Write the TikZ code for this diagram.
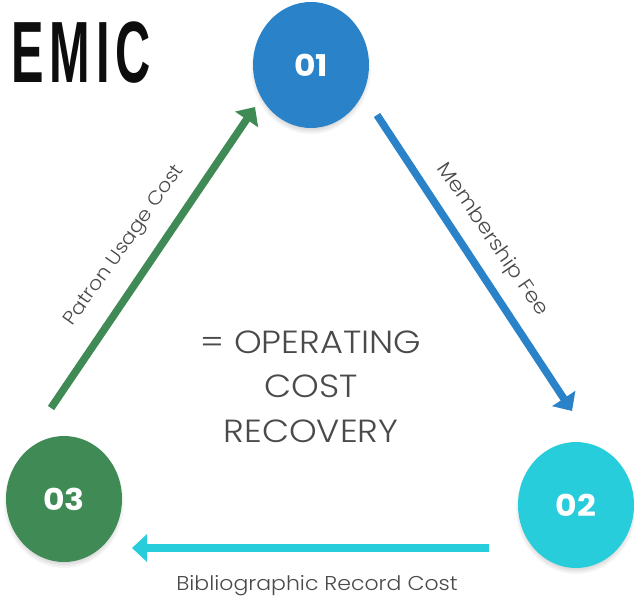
\documentclass[tikz,border=0pt]{standalone}
\usepackage{fontspec}
\setmainfont{Poppins}[UprightFont=* Light,BoldFont=* Bold,FakeStretch=1.1]
\newfontfamily\emicfont{Liberation Sans}[LetterSpace=12,BoldFont=* Bold]
\usetikzlibrary{arrows.meta,shapes.geometric}
\definecolor{cblue}{HTML}{2A83C9}
\definecolor{ccyan}{HTML}{28CDDB}
\definecolor{cgreen}{HTML}{3F8A55}
\definecolor{ctext}{HTML}{4A4A4A}
\tikzset{
  x=1pt,y=-1pt,
  stage/.style={ellipse,minimum width=116pt,minimum height=126pt,inner sep=0pt,text=white,font=\bfseries\fontsize{30}{30}\selectfont},
  flow/.style={line width=7.5pt,-{Triangle[length=15pt,width=27pt]}},
  lbl/.style={text=ctext,font=\fontsize{20}{22}\selectfont,inner sep=0pt},
  centretext/.style={text=ctext,font=\fontsize{32}{44.5}\selectfont,align=center,inner sep=0pt},
  shade/.style={fill=black,opacity=0.035,draw=none}
}
\begin{document}
\begin{tikzpicture}
\useasboundingbox (0,0) rectangle (634,599);
\fill[white] (0,0) rectangle (634,599);
\foreach \cx/\cy in {311/65,576/505,64/499}{
  \foreach \g in {0,1.5,3,4.5}{
    \fill[shade] (\cx,\cy+4) ellipse [x radius=60-\g,y radius=65-\g];
  }
}
\node[stage,fill=cblue] (n1) at (311,65) {01};
\node[stage,fill=ccyan] (n2) at (576,505) {02};
\node[stage,fill=cgreen] (n3) at (64,499) {03};
\coordinate (s1) at (377,115);
\coordinate (e1) at (572,411);
\coordinate (s2) at (489,548);
\coordinate (e2) at (132,548);
\coordinate (s3) at (51,408);
\coordinate (e3) at (255,107);
\draw[flow,draw=cblue,fill=cblue] (s1) -- (e1);
\draw[flow,draw=ccyan,fill=ccyan] (s2) -- (e2);
\draw[flow,draw=cgreen,fill=cgreen] (s3) -- (e3);
\node[lbl,rotate=-55.5] (l1) at (492,240) {Membership Fee};
\node[lbl] (l2) at (317,586) {Bibliographic Record Cost};
\node[lbl,rotate=54.5,font=\fontsize{19}{22}\selectfont] (l3) at (125,246) {Patron Usage Cost};
\node[centretext] (c) at (311,386.5) {= OPERATING\\COST\\RECOVERY};
\node[inner sep=0pt,text=black!95,anchor=center] (t) at (81,53) {\scalebox{0.56}[1]{\emicfont\bfseries\fontsize{87}{87}\selectfont EMIC}};
\end{tikzpicture}
\end{document}
